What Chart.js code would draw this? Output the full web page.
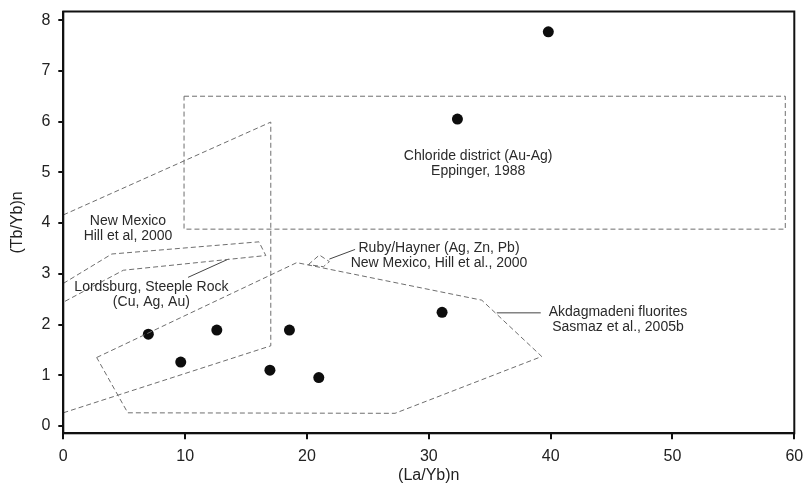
<!DOCTYPE html>
<html>
<head>
<meta charset="utf-8">
<script src="https://cdn.jsdelivr.net/npm/chart.js@4/dist/chart.umd.min.js"></script>
<style>
  html, body { margin: 0; padding: 0; background: #fff; }
  #wrap { width: 806px; height: 485px; }
</style>
</head>
<body>
<div id="wrap"><canvas id="c" width="806" height="485"></canvas></div>
<script>
// Sample analyses: (La/Yb)n versus (Tb/Yb)n
const laYb = [6.98, 9.64, 12.6, 16.96, 18.56, 20.97, 31.09, 32.35, 39.81];
const tbYb = [1.81, 1.26, 1.89, 1.10, 1.89, 0.955, 2.24, 6.05, 7.77];

// Axis tick values
const xTicks = [0, 10, 20, 30, 40, 50, 60];
const yTicks = [0, 1, 2, 3, 4, 5, 6, 7, 8];

// Reference field outlines (closed polygons)
const chlorideX = [9.91, 59.26, 59.26, 9.91, 9.91];
const chlorideY = [6.50, 6.50, 3.88, 3.88, 6.50];

const newMexicoX = [0, 17.03, 17.03, 0, 0];
const newMexicoY = [4.16, 5.99, 1.58, 0.26, 4.16];

const lordsburgX = [0, 3.98, 16.06, 16.62, 4.93, 0, 0];
const lordsburgY = [2.81, 3.39, 3.63, 3.36, 3.07, 2.44, 2.81];

const akdagX = [2.74, 19.16, 34.35, 39.27, 27.23, 5.29, 2.74];
const akdagY = [1.35, 3.22, 2.48, 1.37, 0.25, 0.26, 1.35];

const rubyX = [20.11, 21.02, 21.84, 21.35, 20.11];
const rubyY = [3.18, 3.37, 3.24, 3.14, 3.18];

// Leader lines from field names to their outlines
const lordsburgLeaderX = [13.55, 10.24];
const lordsburgLeaderY = [3.29, 2.93];
const rubyLeaderX = [21.84, 23.95];
const rubyLeaderY = [3.29, 3.48];
const akdagLeaderX = [35.58, 39.19];
const akdagLeaderY = [2.23, 2.23];

// Field names and their anchor (centre of first text line)
const fieldNames = [
  { lines: ['Chloride district (Au-Ag)', 'Eppinger, 1988'], x: 34.05, y: 5.32 },
  { lines: ['New Mexico', 'Hill et al, 2000'], x: 5.31, y: 4.04 },
  { lines: ['Lordsburg, Steeple Rock', '(Cu, Ag, Au)'], x: 7.23, y: 2.74 },
  { lines: ['Ruby/Hayner (Ag, Zn, Pb)', 'New Mexico, Hill et al., 2000'], x: 30.84, y: 3.51 },
  { lines: ['Akdagmadeni fluorites', 'Sasmaz et al., 2005b'], x: 45.53, y: 2.24 }
];

const pairs = (xs, ys) => xs.map((x, i) => ({ x: x, y: ys[i] }));

const outline = (xs, ys) => ({
  data: pairs(xs, ys),
  showLine: true,
  borderColor: '#6e6e6e',
  borderWidth: 1,
  borderDash: [5, 3],
  pointRadius: 0,
  fill: false,
  tension: 0
});

const leader = (xs, ys) => ({
  data: pairs(xs, ys),
  showLine: true,
  borderColor: '#444',
  borderWidth: 1,
  pointRadius: 0,
  fill: false
});

const FONT = '"Liberation Sans", Arial, sans-serif';

const framePlugin = {
  id: 'frame',
  afterDatasetsDraw(chart) {
    const { ctx, chartArea: a, scales } = chart;
    ctx.save();
    // field names
    ctx.fillStyle = '#2a2a2a';
    ctx.font = '14px ' + FONT;
    ctx.textAlign = 'center';
    ctx.textBaseline = 'middle';
    fieldNames.forEach(f => {
      const px = scales.x.getPixelForValue(f.x);
      const py = scales.y.getPixelForValue(f.y);
      f.lines.forEach((t, i) => ctx.fillText(t, px, py + i * 15));
    });
    // plot frame
    ctx.strokeStyle = '#111';
    ctx.lineWidth = 2;
    ctx.strokeRect(a.left, a.top, a.right - a.left, a.bottom - a.top);
    ctx.restore();
  }
};

new Chart(document.getElementById('c'), {
  type: 'scatter',
  data: {
    datasets: [
      outline(chlorideX, chlorideY),
      outline(newMexicoX, newMexicoY),
      outline(lordsburgX, lordsburgY),
      outline(akdagX, akdagY),
      outline(rubyX, rubyY),
      leader(lordsburgLeaderX, lordsburgLeaderY),
      leader(rubyLeaderX, rubyLeaderY),
      leader(akdagLeaderX, akdagLeaderY),
      {
        data: pairs(laYb, tbYb),
        pointRadius: 5.5,
        pointBackgroundColor: '#0d0d0d',
        pointBorderColor: '#0d0d0d',
        pointBorderWidth: 0,
        showLine: false
      }
    ]
  },
  options: {
    responsive: false,
    animation: false,
    layout: { padding: { top: 11.5, right: 11.7, left: 0, bottom: 0 } },
    plugins: { legend: { display: false }, tooltip: { enabled: false } },
    scales: {
      x: {
        type: 'linear',
        min: 0,
        max: 60,
        afterBuildTicks: s => { s.ticks = xTicks.map(v => ({ value: v })); },
        afterFit: s => { s.height = 51.7; s.paddingLeft = 0; s.paddingRight = 0; },
        grid: { drawOnChartArea: false, drawTicks: true, tickLength: 6, color: '#111', lineWidth: 2 },
        border: { display: true, color: '#111', width: 2 },
        ticks: { color: '#222', font: { family: FONT, size: 16 }, padding: 7.6, maxRotation: 0 },
        title: { display: true, text: '(La/Yb)n', color: '#222', font: { family: FONT, size: 16 }, padding: { top: 0, bottom: 0 } }
      },
      y: {
        type: 'linear',
        min: -0.144,
        max: 8.17,
        afterBuildTicks: s => { s.ticks = yTicks.map(v => ({ value: v })); },
        afterFit: s => { s.width = 63.3; s.paddingTop = 0; s.paddingBottom = 0; },
        grid: { drawOnChartArea: false, drawTicks: true, tickLength: 5, color: '#111', lineWidth: 2 },
        border: { display: true, color: '#111', width: 2 },
        ticks: { color: '#222', font: { family: FONT, size: 16 }, padding: 8 },
        title: { display: true, text: '(Tb/Yb)n', color: '#222', font: { family: FONT, size: 16 }, padding: { top: 8.4, bottom: 0 } }
      }
    }
  },
  plugins: [framePlugin]
});
</script>
</body>
</html>
